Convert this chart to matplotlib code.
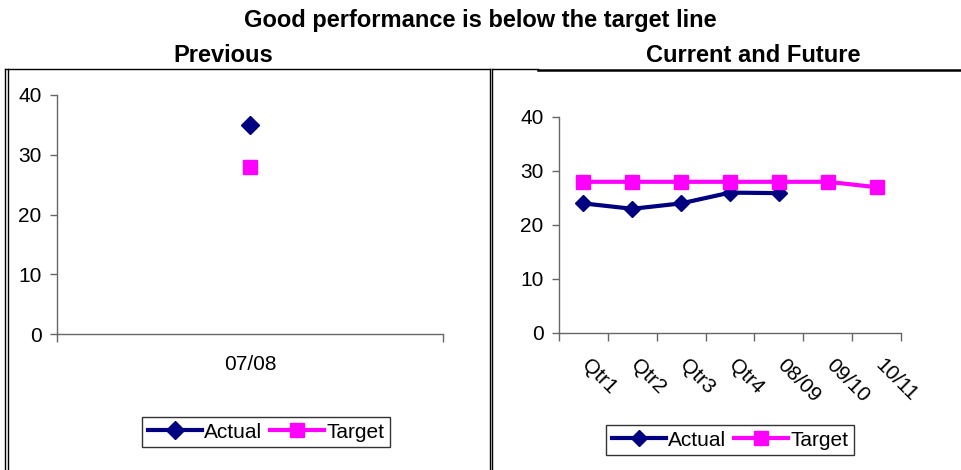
import matplotlib
matplotlib.use("Agg")
import matplotlib.pyplot as plt
from matplotlib.lines import Line2D
from matplotlib.transforms import ScaledTranslation

plt.rcParams['font.family'] = ['Liberation Sans', 'DejaVu Sans']

# -------------------------
# DATA
# -------------------------
prev_labels = ["07/08"]
prev_actual = [35]
prev_target = [28]

cur_labels = ["Qtr1", "Qtr2", "Qtr3", "Qtr4", "08/09", "09/10", "10/11"]
cur_actual = [24, 23, 24, 26, 25.9]
cur_target = [28, 28, 28, 28, 28, 28, 27]

yticks = [0, 10, 20, 30, 40]

NAVY = "#000080"
MAGENTA = "#FF00FF"
AXIS_GRAY = "#666666"
FS = 15
W, H = 961, 470

fig = plt.figure(figsize=(W / 100, H / 100), dpi=100)


def px_axes(x0, y_top, x1, y_bot):
    return fig.add_axes([x0 / W, 1 - y_bot / H, (x1 - x0) / W, (y_bot - y_top) / H])


def style_axes(ax, n):
    for s in ["top", "right"]:
        ax.spines[s].set_visible(False)
    for s in ["left", "bottom"]:
        ax.spines[s].set_color(AXIS_GRAY)
        ax.spines[s].set_linewidth(1)
    ax.set_ylim(0, 40)
    ax.set_xlim(-0.5, n - 0.5)
    ax.set_yticks(yticks)
    ax.set_xticks(range(n))
    ax.set_xticks([i - 0.5 for i in range(n + 1)], minor=True)
    ax.tick_params(axis="y", length=5, width=1, color=AXIS_GRAY, pad=6, labelsize=FS)
    ax.tick_params(axis="x", which="major", length=0, labelsize=FS)
    ax.tick_params(axis="x", which="minor", length=6, width=1, color=AXIS_GRAY)


# -------------------------
# PREVIOUS
# -------------------------
ax1 = px_axes(57, 95, 443, 334)
style_axes(ax1, len(prev_labels))
ax1.plot(range(len(prev_actual)), prev_actual, color=NAVY, marker="D", markersize=9,
         linewidth=3, label="Actual")
ax1.plot(range(len(prev_target)), prev_target, color=MAGENTA, marker="s", markersize=10,
         linewidth=3, label="Target")
ax1.set_xticklabels(prev_labels)
ax1.tick_params(axis="x", which="major", pad=15)

# -------------------------
# CURRENT AND FUTURE
# -------------------------
ax2 = px_axes(559, 117, 901, 333)
style_axes(ax2, len(cur_labels))
ax2.plot(range(len(cur_actual)), cur_actual, color=NAVY, marker="D", markersize=8.5,
         linewidth=3, label="Actual")
ax2.plot(range(len(cur_target)), cur_target, color=MAGENTA, marker="s", markersize=10,
         linewidth=3, label="Target")
ax2.set_xticklabels(cur_labels, rotation=-45, ha="left", va="top", rotation_mode="anchor")
ax2.tick_params(axis="x", which="major", pad=16)
shift = ScaledTranslation(0.08, 0.0, fig.dpi_scale_trans)
for lab in ax2.get_xticklabels():
    lab.set_transform(lab.get_transform() + shift)

for ax, cx, cy in [(ax1, 266, 432), (ax2, 730, 440)]:
    leg = ax.legend(loc="center", bbox_to_anchor=(cx / W, 1 - cy / H),
                    bbox_transform=fig.transFigure, ncol=2, fontsize=FS,
                    frameon=True, fancybox=False, edgecolor="black",
                    handlelength=2.6, handletextpad=0.1, columnspacing=0.4,
                    borderpad=0.25, borderaxespad=0)
    leg.get_frame().set_linewidth(1)

# -------------------------
# TITLES
# -------------------------
fig.text(480 / W, 1 - 20 / H, "Good performance is below the target line",
         ha="center", va="center", fontsize=17, fontweight="bold")
fig.text(223 / W, 1 - 55 / H, "Previous",
         ha="center", va="center", fontsize=17, fontweight="bold")
fig.text(753 / W, 1 - 55 / H, "Current and Future",
         ha="center", va="center", fontsize=17, fontweight="bold")

# -------------------------
# FRAMES
# -------------------------
def px_line(xs, ys, lw=1.0):
    fig.add_artist(Line2D([x / W for x in xs], [1 - y / H for y in ys],
                          transform=fig.transFigure, color="black", linewidth=lw))

px_line([5, 5], [69, 470])
px_line([8, 8], [69, 470])
px_line([5, 490], [69, 69])
px_line([490, 490], [69, 470])
px_line([492, 538], [69, 69])
px_line([538, 961], [70, 70], lw=1.8)
px_line([492, 492], [69, 470])

fig.savefig("out.png", dpi=100)
